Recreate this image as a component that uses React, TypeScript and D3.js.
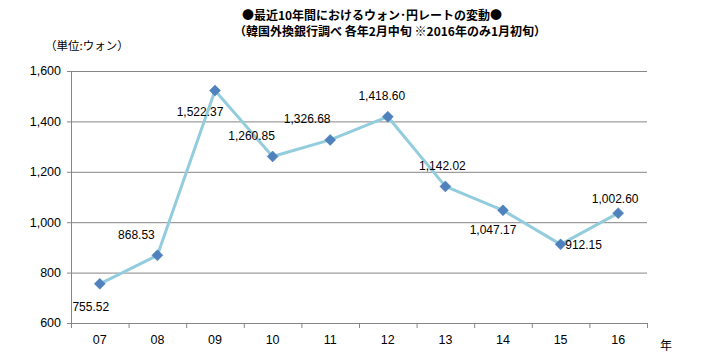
import React from "react";
import * as d3 from "d3";

const years = ["07", "08", "09", "10", "11", "12", "13", "14", "15", "16"];
const rates = [755.52, 868.53, 1522.37, 1260.85, 1326.68, 1418.6, 1142.02, 1047.17, 912.15, 1036];
const rateLabels = ["755.52", "868.53", "1,522.37", "1,260.85", "1,326.68", "1,418.60", "1,142.02", "1,047.17", "912.15", "1,002.60"];
const yTicks = [600, 800, 1000, 1200, 1400, 1600];

const titleLine1 = "●最近10年間におけるウォン･円レートの変動●";
const titleLine2 = "（韓国外換銀行調べ 各年2月中旬 ※2016年のみ1月初旬）";
const unitLabel = "（単位:ウォン）";
const xUnit = "年";

// label offsets (layout) relative to each point
const labelOffsets: [number, number][] = [
  [-9, 23], [-21, -21], [-15, 21], [-21, -21], [-23, -21],
  [-6, -21], [-3, -21], [-10, 19], [23, 0], [-3, -14],
];

export default function App() {
  const W = 720, H = 360;
  const left = 71, right = 647, top = 71, bottom = 323;
  const x = d3.scaleBand<string>().domain(years).range([left, right]);
  const y = d3.scaleLinear().domain([600, 1600]).range([bottom, top]);
  const cx = (d: string) => (x(d) ?? 0) + x.bandwidth() / 2;
  const line = d3.line<number>().x((_, i) => cx(years[i])).y((v) => y(v));
  const font = "'Liberation Sans', Arial, sans-serif";
  const jp = "'Noto Sans CJK JP', sans-serif";
  const grid = "#868686";
  const edges = years.map((d) => x(d) ?? 0).concat([right]);

  return (
    <svg width={W} height={H} style={{ position: "absolute", left: 0, top: 0, background: "#fff" }}>
      <rect width={W} height={H} fill="#fff" />
      <text x={372} y={20} textAnchor="middle" fontFamily={jp} fontWeight="bold" fontSize={12} fill="#000">{titleLine1}</text>
      <text x={390} y={36} textAnchor="middle" fontFamily={jp} fontWeight="bold" fontSize={12} fill="#000">{titleLine2}</text>
      <text x={45} y={50} fontFamily={jp} fontSize={11.5} fill="#000">{unitLabel}</text>

      {yTicks.map((t) => (
        <g key={t}>
          {t !== 600 && <line x1={left} x2={right} y1={y(t) + 0.5} y2={y(t) + 0.5} stroke={grid} strokeWidth={1} />}
          <line x1={left - 4} x2={left} y1={y(t) + 0.5} y2={y(t) + 0.5} stroke={grid} />
          <text x={61} y={y(t)} dy="0.35em" textAnchor="end" fontFamily={font} fontSize={12.5} fill="#000">{d3.format(",")(t)}</text>
        </g>
      ))}
      <line x1={left + 0.5} x2={left + 0.5} y1={top} y2={bottom} stroke={grid} />
      <line x1={left} x2={right} y1={bottom + 0.5} y2={bottom + 0.5} stroke={grid} />
      {edges.map((e, i) => (
        <line key={i} x1={e + 0.5} x2={e + 0.5} y1={bottom} y2={bottom + 5} stroke={grid} />
      ))}
      {years.map((d) => (
        <text key={d} x={cx(d)} y={340} dy="0.35em" textAnchor="middle" fontFamily={font} fontSize={12.5} fill="#000">{d}</text>
      ))}
      <text x={666} y={346} dy="0.35em" textAnchor="middle" fontFamily={jp} fontSize={12} fill="#000">{xUnit}</text>

      <path d={line(rates) ?? ""} fill="none" stroke="#93CDDD" strokeWidth={3} strokeLinejoin="round" />
      {rates.map((v, i) => {
        const px = cx(years[i]);
        const py = y(v);
        return (
          <path key={i} d={`M${px},${py - 5.5}L${px + 5.5},${py}L${px},${py + 5.5}L${px - 5.5},${py}Z`} fill="#4F81BD" stroke="#4A7EBB" strokeWidth={0.5} />
        );
      })}
      {rates.map((v, i) => (
        <text key={"l" + i} x={cx(years[i]) + labelOffsets[i][0]} y={y(v) + labelOffsets[i][1]} dy="0.35em" textAnchor="middle" fontFamily={font} fontSize={12} fill="#000">{rateLabels[i]}</text>
      ))}
    </svg>
  );
}
